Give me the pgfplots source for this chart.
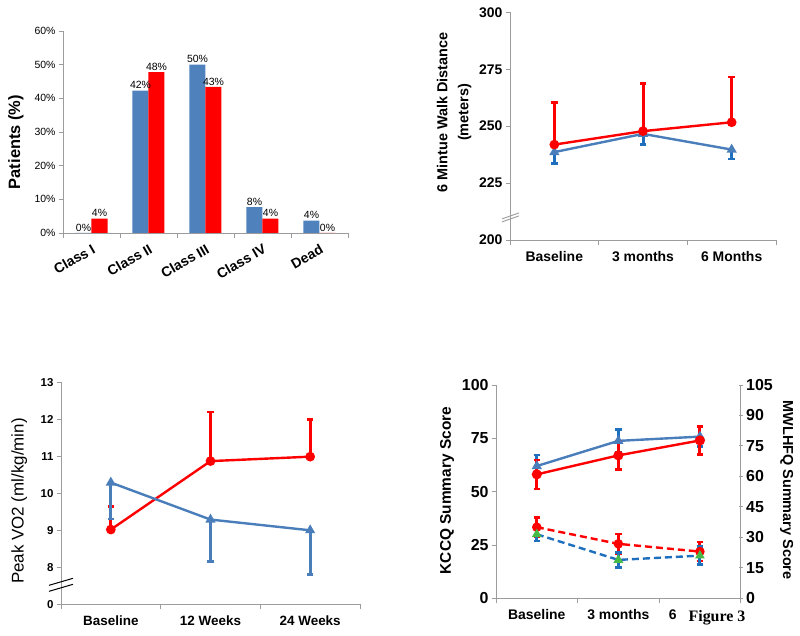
\documentclass[border=0pt]{standalone}
\usepackage{pgfplots}
\pgfplotsset{compat=1.18}
\usepackage{fontspec}
\setmainfont{Liberation Sans}
\newfontfamily\serifb{Liberation Serif}
\newcommand\fs[1]{\fontsize{#1}{#1}\selectfont}
\definecolor{barblue}{HTML}{4F81BD}
\definecolor{lineblue}{HTML}{4A7EBB}
\definecolor{errblue}{HTML}{1F6FBF}
\definecolor{axisgray}{HTML}{9C9C9C}
\definecolor{myred}{HTML}{FF0000}
\pgfplotsset{
  /pgf/number format/assume math mode=true,
  every error bar/.append style={line width=3bp},
  base/.style={scale only axis, anchor=south west,
    axis x line=bottom, axis y line=left,
    axis line style={draw=axisgray, line width=0.9bp, -},
    tick style={draw=axisgray, line width=0.9bp},
    tick align=outside, major tick length=4bp, minor tick length=5bp,
    clip=false, xmin=-0.5, xmax=2.5, xtick={0,1,2},
    minor xtick={-0.5,0.5,1.5,2.5},
    major x tick style={draw=none},
    ticklabel style={text=black},
  },
  ebars/.style={error bars/.cd, y explicit, y dir=#1,
    error bar style={/tikz/line width=3bp},
    error mark=-,
    error mark options={rotate=90, mark size=3.2bp, line width=2.6bp}, /pgfplots/.cd},
}
\begin{document}
\begin{tikzpicture}
\useasboundingbox (0,0) rectangle (800bp,636bp);
% ---------- Panel 1 ----------
\begin{axis}[base, at={(63bp,403bp)}, width=285bp, height=202bp,
  ybar=0pt, bar width=16bp, ymin=0, ymax=60, ytick={0,10,...,60},
  yticklabel={\pgfmathprintnumber{\tick}\%},
  yticklabel style={font=\fs{10.5}},
  xmin=-0.5, xmax=4.5, xtick={0,...,4},
  minor xtick={-0.5,0.5,...,4.5},
  xticklabels={Class I, Class II, Class III, Class IV, Dead},
  xticklabel style={rotate=30, anchor=north east, font=\bfseries\fs{14}, yshift=-2bp},
  ylabel={Patients (\%)},
  ylabel style={at={(axis description cs:-0.165,0.45)}, anchor=center, font=\bfseries\fs{16.5}},
  nodes near coords, point meta=explicit symbolic,
  every node near coord/.append style={font=\fs{10.5}, text=black, inner sep=1.5bp},
]
\addplot[fill=barblue, draw=none] coordinates {(0,0)[0\%] (1,42.3)[42\%] (2,50)[50\%] (3,7.7)[8\%] (4,3.7)[4\%]};
\addplot[fill=myred, draw=none] coordinates {(0,4.3)[4\%] (1,47.8)[48\%] (2,43.4)[43\%] (3,4.3)[4\%] (4,0)[0\%]};
\end{axis}
% ---------- Panel 2 ----------
\begin{axis}[base, at={(510bp,396bp)}, width=266bp, height=227.7bp,
  ymin=200, ymax=300, ytick={200,225,...,300},
  xticklabels={Baseline, 3 months, 6 Months},
  ticklabel style={font=\bfseries\fs{14}},
  xticklabel style={yshift=-4bp},
  ylabel={6 Mintue Walk Distance\\(meters)},
  ylabel style={at={(axis description cs:-0.21,0.56)}, anchor=center, align=center, font=\bfseries\fontsize{14.5}{21}\selectfont},
]
\addplot[lineblue, line width=2.4bp, mark=triangle*, mark size=3.5bp, mark options={fill=lineblue},
  ebars=minus, error bars/error bar style={errblue, line width=3bp}, error bars/error mark options={rotate=90, mark size=3.2bp, line width=2.6bp, errblue}]
  coordinates {(0,238.6) +- (0,5.0) (1,246.6) +- (0,4.6) (2,239.7) +- (0,4.2)};
\addplot[myred, line width=2.4bp, mark=*, mark size=3.6bp, ebars=plus]
  coordinates {(0,241.9) +- (0,18.5) (1,247.8) +- (0,21.0) (2,251.7) +- (0,19.9)};
\draw[axisgray, line width=0.9bp] ([xshift=-8bp,yshift=-4bp]axis description cs:0,0.097) -- ([xshift=9bp,yshift=2bp]axis description cs:0,0.097);
\draw[axisgray, line width=0.9bp] ([xshift=-8bp,yshift=-1bp]axis description cs:0,0.097) -- ([xshift=9bp,yshift=5bp]axis description cs:0,0.097);
\end{axis}
% ---------- Panel 3 ----------
\begin{axis}[base, at={(61bp,31.7bp)}, width=299bp, height=222bp,
  ymin=7, ymax=13, ytick={7,8,...,13}, yticklabels={0,8,9,10,11,12,13},
  yticklabel style={font=\bfseries\fs{11.5}},
  xticklabels={Baseline, 12 Weeks, 24 Weeks},
  xticklabel style={font=\bfseries\fs{13.5}, yshift=-4bp},
  ylabel={Peak VO2 (ml/kg/min)},
  ylabel style={at={(axis description cs:-0.14,0.465)}, anchor=center, font=\fs{17}},
]
\addplot[myred, line width=2.4bp, mark=*, mark size=3.6bp, ebars=plus]
  coordinates {(0,9.02) +- (0,0.63) (1,10.87) +- (0,1.33) (2,10.99) +- (0,1.0)};
\addplot[lineblue, line width=2.4bp, mark=triangle*, mark size=3.5bp, ebars=minus]
  coordinates {(0,10.29) +- (0,0.99) (1,9.29) +- (0,1.13) (2,9.0) +- (0,1.2)};
\draw[black, line width=1bp] ([xshift=-12bp,yshift=-1bp]axis description cs:0,0.09) -- ([xshift=12bp,yshift=6bp]axis description cs:0,0.09);
\draw[black, line width=1bp] ([xshift=-12bp,yshift=-7bp]axis description cs:0,0.09) -- ([xshift=12bp,yshift=0bp]axis description cs:0,0.09);
\end{axis}
% ---------- Panel 4 ----------
\begin{axis}[base, at={(496bp,37.7bp)}, width=244.7bp, height=213.3bp,
  ymin=0, ymax=100, ytick={0,25,...,100},
  yticklabel style={font=\bfseries\fs{16}},
  xticklabels={Baseline, 3 months, 6 months},
  xticklabel style={font=\bfseries\fs{14}, yshift=-4bp},
  ylabel={KCCQ Summary Score},
  ylabel style={at={(axis description cs:-0.2,0.505)}, anchor=center, font=\bfseries\fs{15.5}},
]
\addplot[lineblue, line width=2.4bp, mark=triangle*, mark size=3.5bp, ebars=both,
  error bars/error bar style={errblue, line width=3bp}, error bars/error mark options={rotate=90, mark size=3.2bp, line width=2.6bp, errblue}]
  coordinates {(0,62.0) +- (0,5.2) (1,73.8) +- (0,5.2) (2,75.8) +- (0,4.6)};
\addplot[myred, line width=2.4bp, mark=*, mark size=3.8bp, ebars=both]
  coordinates {(0,58.1) +- (0,6.8) (1,67.0) +- (0,6.6) (2,74.0) +- (0,6.6)};
\end{axis}
\begin{axis}[base, at={(496bp,37.7bp)}, width=244.7bp, height=213.3bp,
  axis x line=none, axis y line=right, axis line style={draw=axisgray, line width=0.9bp, -},
  ymin=0, ymax=105, ytick={0,15,...,105},
  yticklabel style={font=\bfseries\fs{16}},
  ylabel={MWLHFQ Summary Score},
  ylabel style={at={(axis description cs:1.188,0.507)}, anchor=center, rotate=180, font=\bfseries\fs{14.5}},
]
\addplot[myred, line width=2.4bp, dash pattern=on 7bp off 4bp, mark=*, mark size=3.5bp, mark options={solid}, ebars=both,
  error bars/error bar style={solid, line width=3bp}]
  coordinates {(0,35.0) +- (0,4.7) (1,26.8) +- (0,4.8) (2,23.0) +- (0,4.7)};
\addplot[errblue, line width=2.4bp, dash pattern=on 7bp off 4bp, mark=triangle*, mark size=3.3bp, mark options={solid, fill=green!45!gray, draw=green!45!gray}, ebars=both,
  error bars/error bar style={solid, line width=3bp}, error bars/error mark options={rotate=90, mark size=3.2bp, line width=2.6bp, solid, errblue}]
  coordinates {(0,31.5) +- (0,3.3) (1,18.9) +- (0,3.7) (2,21.0) +- (0,4.4)};
\end{axis}
\fill[white] (680bp,8bp) rectangle (762bp,29bp);
\node[inner sep=0pt, font=\serifb\bfseries\fs{16}] at (717bp,18bp) {Figure 3};
\end{tikzpicture}
\end{document}
